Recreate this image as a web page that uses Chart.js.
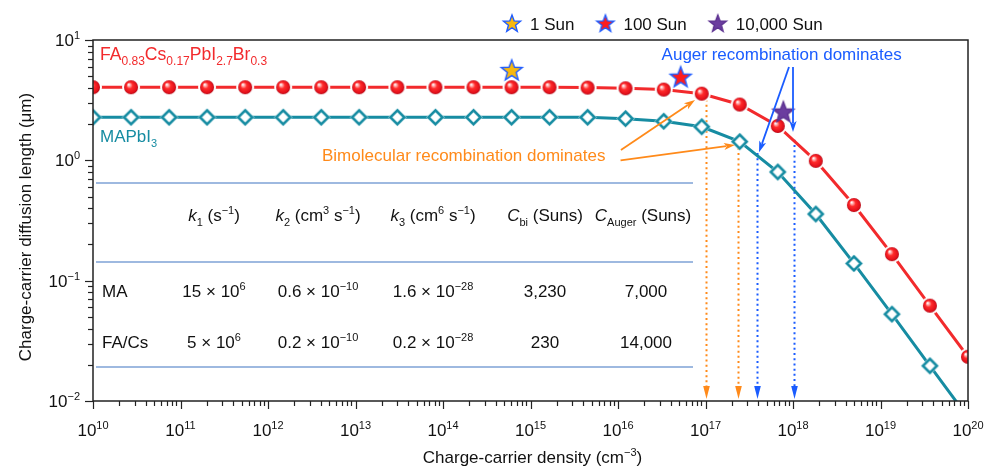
<!DOCTYPE html>
<html>
<head>
<meta charset="utf-8">
<script src="https://cdn.jsdelivr.net/npm/chart.js@4.4.1/dist/chart.umd.min.js"></script>
<style>
  html, body { margin: 0; padding: 0; background: #fff; }
  #wrap { width: 984px; height: 467px; }
</style>
</head>
<body>
<div id="wrap"><canvas id="myChart" width="984" height="467"></canvas></div>
<script>
// charge-carrier density of each simulated point (cm^-3)
const density = [1.0e10, 2.72e10, 7.41e10, 2.01e11, 5.48e11, 1.49e12, 4.06e12, 1.10e13,
    3.01e13, 8.19e13, 2.23e14, 6.07e14, 1.65e15, 4.49e15, 1.22e16, 3.33e16,
    9.06e16, 2.46e17, 6.70e17, 1.82e18, 4.97e18, 1.35e19, 3.67e19, 1.0e20];
// diffusion length (um)
const faCsLength = [4.05, 4.05, 4.05, 4.05, 4.05, 4.05, 4.05, 4.05, 4.05, 4.05, 4.05, 4.05,
    4.05, 4.02, 3.97, 3.87, 3.58, 2.91, 1.93, 0.99, 0.425, 0.166, 0.062, 0.0233];
const mapiLength = [2.28, 2.28, 2.28, 2.28, 2.28, 2.28, 2.28, 2.28, 2.28, 2.28, 2.28, 2.28,
    2.28, 2.28, 2.22, 2.11, 1.90, 1.43, 0.80, 0.358, 0.139, 0.0527, 0.0196, 0.0073];

// illumination markers
const sunNames = ['1 Sun', '100 Sun', '10,000 Sun'];
const sunDensity = [6.1e14, 5.2e16, 7.75e17];
const sunLength = [5.64, 4.96, 2.54];
const sunFill = ['#f7b80f', '#ff1c1c', '#6b3d9f'];
const sunEdge = ['#1f5cff', '#1f5cff', '#5c3190'];

// tick labels (powers of ten)
const xTickExp = [10, 11, 12, 13, 14, 15, 16, 17, 18, 19, 20];
const yTickExp = [-2, -1, 0, 1];

// dotted drop lines (density, top of line)
const biDensity = [1.0e17, 2.33e17];
const biTop = [3.2, 1.27];
const augerDensity = [3.9e17, 1.03e18];
const augerTop = [1.15, 1.48];

// annotation arrows [x1, y1, x2, y2] in data units
const biArrows = [[1.08e16, 1.22, 7.6e16, 3.17], [1.07e16, 1.0, 2.17e17, 1.34]];
const augerArrows = [[9.0e17, 5.97, 4.09e17, 1.17], [1.0e18, 5.97, 1.0e18, 1.72]];

// inset table
const tableHead = [
    [['k', 'i'], ['1', 'sub'], [' (s', ''], ['\u22121', 'sup'], [')', '']],
    [['k', 'i'], ['2', 'sub'], [' (cm', ''], ['3', 'sup'], [' s', ''], ['\u22121', 'sup'], [')', '']],
    [['k', 'i'], ['3', 'sub'], [' (cm', ''], ['6', 'sup'], [' s', ''], ['\u22121', 'sup'], [')', '']],
    [['C', 'i'], ['bi', 'sub'], [' (Suns)', '']],
    [['C', 'i'], ['Auger', 'sub'], [' (Suns)', '']]
];
const tableRowNames = ['MA', 'FA/Cs'];
const tableRows = [
    [[['15 \u00d7 10', ''], ['6', 'sup']], [['0.6 \u00d7 10', ''], ['\u221210', 'sup']],
     [['1.6 \u00d7 10', ''], ['\u221228', 'sup']], [['3,230', '']], [['7,000', '']]],
    [[['5 \u00d7 10', ''], ['6', 'sup']], [['0.2 \u00d7 10', ''], ['\u221210', 'sup']],
     [['0.2 \u00d7 10', ''], ['\u221228', 'sup']], [['230', '']], [['14,000', '']]]
];

const FONT = '"Liberation Sans", Arial, Helvetica, sans-serif';
const RED = '#f22a2c';
const TEAL = '#168ca2';
const ORANGE = '#ff8a1a';
const BLUE = '#1a5cff';

function partFont(kind, size) {
    const s = (kind === 'sup' || kind === 'sub') ? Math.round(size * 0.66) : size;
    return (kind === 'i' ? 'italic ' : '') + s + 'px ' + FONT;
}

function drawRich(ctx, parts, x, y, size, align) {
    let w = 0;
    parts.forEach(p => { ctx.font = partFont(p[1], size); w += ctx.measureText(p[0]).width; });
    let cx = align === 'center' ? x - w / 2 : (align === 'right' ? x - w : x);
    ctx.textAlign = 'left';
    ctx.textBaseline = 'alphabetic';
    parts.forEach(p => {
        ctx.font = partFont(p[1], size);
        const dy = p[1] === 'sup' ? -size * 0.42 : (p[1] === 'sub' ? size * 0.3 : 0);
        ctx.fillText(p[0], cx, y + dy);
        cx += ctx.measureText(p[0]).width;
    });
}

function makeSphere(r, ring) {
    const s = Math.ceil((r + ring) * 2 + 2);
    const c = document.createElement('canvas');
    c.width = c.height = s;
    const g = c.getContext('2d');
    const m = s / 2;
    g.fillStyle = '#fff';
    g.beginPath(); g.arc(m, m, r + ring, 0, Math.PI * 2); g.fill();
    const grad = g.createRadialGradient(m - r * 0.35, m - r * 0.4, r * 0.05, m, m, r);
    grad.addColorStop(0, '#ffffff');
    grad.addColorStop(0.2, '#ff9c9c');
    grad.addColorStop(0.42, '#ff2b2b');
    grad.addColorStop(0.85, '#e3101b');
    grad.addColorStop(1, '#b0000e');
    g.fillStyle = grad;
    g.beginPath(); g.arc(m, m, r, 0, Math.PI * 2); g.fill();
    return c;
}

function diamondPath(g, m, r) {
    g.beginPath();
    g.moveTo(m, m - r); g.lineTo(m + r, m); g.lineTo(m, m + r); g.lineTo(m - r, m);
    g.closePath();
}

function makeDiamond(r, ring, color) {
    const s = Math.ceil((r + ring) * 2 + 2);
    const c = document.createElement('canvas');
    c.width = c.height = s;
    const g = c.getContext('2d');
    const m = s / 2;
    g.fillStyle = '#fff';
    diamondPath(g, m, r + ring); g.fill();
    diamondPath(g, m, r);
    g.lineWidth = 2.6;
    g.strokeStyle = color;
    g.stroke();
    return c;
}

function makeStar(R, fill, edge) {
    const s = Math.ceil(R * 2 + 4);
    const c = document.createElement('canvas');
    c.width = c.height = s;
    const g = c.getContext('2d');
    const m = s / 2;
    g.beginPath();
    for (let i = 0; i < 10; i++) {
        const rr = i % 2 === 0 ? R : R * 0.42;
        const a = -Math.PI / 2 + i * Math.PI / 5;
        const px = m + rr * Math.cos(a), py = m + 1 + rr * Math.sin(a);
        if (i === 0) g.moveTo(px, py); else g.lineTo(px, py);
    }
    g.closePath();
    g.fillStyle = fill;
    g.fill();
    g.lineWidth = 1.4;
    g.strokeStyle = edge;
    g.stroke();
    return c;
}

function arrow(ctx, x1, y1, x2, y2, color, lw) {
    const a = Math.atan2(y2 - y1, x2 - x1);
    const len = 11, hw = 3.6;
    ctx.strokeStyle = color;
    ctx.fillStyle = color;
    ctx.lineWidth = lw;
    ctx.beginPath();
    ctx.moveTo(x1, y1);
    ctx.lineTo(x2 - Math.cos(a) * len * 0.8, y2 - Math.sin(a) * len * 0.8);
    ctx.stroke();
    ctx.beginPath();
    ctx.moveTo(x2, y2);
    ctx.lineTo(x2 - Math.cos(a) * len - Math.sin(a) * hw, y2 - Math.sin(a) * len + Math.cos(a) * hw);
    ctx.lineTo(x2 - Math.cos(a) * len * 0.75, y2 - Math.sin(a) * len * 0.75);
    ctx.lineTo(x2 - Math.cos(a) * len + Math.sin(a) * hw, y2 - Math.sin(a) * len - Math.cos(a) * hw);
    ctx.closePath();
    ctx.fill();
}

const sphereImg = makeSphere(7, 2);
const diamondImg = makeDiamond(7, 2.2, TEAL);
const starImgs = sunFill.map((f, i) => makeStar(11, f, sunEdge[i]));
const legendStars = sunFill.map((f, i) => makeStar(9, f, sunEdge[i]));

const decor = {
    id: 'decor',
    beforeDatasetsDraw(chart) {
        const ctx = chart.ctx;
        const area = chart.chartArea;
        const xs = chart.scales.x, ys = chart.scales.y;
        ctx.save();
        // table rules
        ctx.strokeStyle = '#7ea2d6';
        ctx.lineWidth = 1.4;
        [143, 222, 327].forEach(dy => {
            ctx.beginPath();
            ctx.moveTo(area.left + 3, area.top + dy);
            ctx.lineTo(693, area.top + dy);
            ctx.stroke();
        });
        ctx.fillStyle = '#111';
        const colX = [214, 318, 433, 545, 643];
        tableHead.forEach((parts, i) => drawRich(ctx, parts, colX[i], 221, 17, 'center'));
        tableRows.forEach((row, r) => {
            const by = r === 0 ? 297 : 348;
            drawRich(ctx, [[tableRowNames[r], '']], 102, by, 17, 'left');
            row.forEach((parts, i) => drawRich(ctx, parts, colX[i] + (i === 4 ? 3 : 0), by, 17, 'center'));
        });
        // dotted drop lines with arrow heads
        const drops = [
            ...biDensity.map((d, i) => [d, biTop[i], ORANGE]),
            ...augerDensity.map((d, i) => [d, augerTop[i], BLUE])
        ];
        drops.forEach(([d, top, col]) => {
            const px = Math.round(xs.getPixelForValue(d)) + 0.5;
            const tip = area.bottom - 2;
            ctx.strokeStyle = col;
            ctx.lineWidth = 2;
            ctx.setLineDash([2, 3.2]);
            ctx.beginPath();
            ctx.moveTo(px, ys.getPixelForValue(top));
            ctx.lineTo(px, tip - 10);
            ctx.stroke();
            ctx.setLineDash([]);
            ctx.fillStyle = col;
            ctx.beginPath();
            ctx.moveTo(px, tip);
            ctx.lineTo(px - 3.3, tip - 13);
            ctx.lineTo(px + 3.3, tip - 13);
            ctx.closePath();
            ctx.fill();
        });
        ctx.restore();
    },
    afterDatasetsDraw(chart) {
        const ctx = chart.ctx;
        const xs = chart.scales.x, ys = chart.scales.y;
        ctx.save();
        biArrows.forEach(a => arrow(ctx, xs.getPixelForValue(a[0]), ys.getPixelForValue(a[1]),
            xs.getPixelForValue(a[2]), ys.getPixelForValue(a[3]), ORANGE, 1.8));
        augerArrows.forEach(a => arrow(ctx, xs.getPixelForValue(a[0]), ys.getPixelForValue(a[1]),
            xs.getPixelForValue(a[2]), ys.getPixelForValue(a[3]), BLUE, 1.8));
        ctx.fillStyle = BLUE;
        drawRich(ctx, [['Auger recombination dominates', '']], xs.getPixelForValue(3.15e16), ys.getPixelForValue(6.82), 17, 'left');
        ctx.fillStyle = ORANGE;
        drawRich(ctx, [['Bimolecular recombination dominates', '']], xs.getPixelForValue(4.14e12), ys.getPixelForValue(0.987), 17, 'left');
        // series labels
        ctx.fillStyle = RED;
        drawRich(ctx, [['FA', ''], ['0.83', 'sub'], ['Cs', ''], ['0.17', 'sub'], ['PbI', ''], ['2.7', 'sub'], ['Br', ''], ['0.3', 'sub']],
            chart.chartArea.left + 7, 60, 17.6, 'left');
        ctx.fillStyle = TEAL;
        drawRich(ctx, [['MAPbI', ''], ['3', 'sub']], chart.chartArea.left + 7, 142, 17, 'left');
        ctx.restore();
    },
    afterDraw(chart) {
        const ctx = chart.ctx;
        const area = chart.chartArea;
        const xs = chart.scales.x, ys = chart.scales.y;
        ctx.save();
        ctx.strokeStyle = '#222';
        ctx.lineWidth = 1.5;
        ctx.strokeRect(area.left, area.top, area.right - area.left, area.bottom - area.top);
        ctx.lineWidth = 1.2;
        // x ticks
        xTickExp.forEach((e, k) => {
            const steps = k < xTickExp.length - 1 ? [1, 2, 3, 4, 5, 6, 7, 8, 9] : [1];
            steps.forEach(m => {
                const px = Math.round(xs.getPixelForValue(m * Math.pow(10, e))) + 0.5;
                ctx.beginPath();
                ctx.moveTo(px, area.bottom);
                ctx.lineTo(px, area.bottom + (m === 1 ? 8 : 5));
                ctx.stroke();
            });
        });
        // y ticks
        yTickExp.forEach((e, k) => {
            const steps = k < yTickExp.length - 1 ? [1, 2, 3, 4, 5, 6, 7, 8, 9] : [1];
            steps.forEach(m => {
                const py = Math.round(ys.getPixelForValue(m * Math.pow(10, e))) + 0.5;
                ctx.beginPath();
                ctx.moveTo(area.left, py);
                ctx.lineTo(area.left - (m === 1 ? 8 : 5), py);
                ctx.stroke();
            });
        });
        ctx.fillStyle = '#111';
        xTickExp.forEach(e => {
            drawRich(ctx, [['10', ''], [String(e), 'sup']], xs.getPixelForValue(Math.pow(10, e)), 436, 17, 'center');
        });
        yTickExp.forEach(e => {
            const lab = e < 0 ? '\u2212' + (-e) : String(e);
            drawRich(ctx, [['10', ''], [lab, 'sup']], 80, ys.getPixelForValue(Math.pow(10, e)) + 6, 17, 'right');
        });
        // axis titles
        drawRich(ctx, [['Charge-carrier density (cm', ''], ['\u22123', 'sup'], [')', '']], (area.left + area.right) / 2 + 2, 463, 17, 'center');
        ctx.save();
        ctx.translate(31, 227);
        ctx.rotate(-Math.PI / 2);
        drawRich(ctx, [['Charge-carrier diffusion length (\u03bcm)', '']], 0, 0, 17, 'center');
        ctx.restore();
        // legend
        let lx = 503;
        sunNames.forEach((name, i) => {
            const img = legendStars[i];
            ctx.drawImage(img, lx + 9 - img.width / 2, 23 - img.height / 2);
            ctx.fillStyle = '#111';
            ctx.font = '17px ' + FONT;
            ctx.textAlign = 'left';
            ctx.textBaseline = 'alphabetic';
            ctx.fillText(name, lx + 27, 30);
            lx += 27 + ctx.measureText(name).width + 22;
        });
        ctx.restore();
    }
};

const ctx = document.getElementById('myChart').getContext('2d');
const myChart = new Chart(ctx, {
    type: 'line',
    data: {
        datasets: [
            ...sunNames.map((name, i) => ({
                label: name,
                data: [{ x: sunDensity[i], y: sunLength[i] }],
                showLine: false,
                pointStyle: starImgs[i],
                pointRadius: 10,
                order: 0
            })),
            {
                label: 'FA0.83Cs0.17PbI2.7Br0.3',
                data: density.map((d, i) => ({ x: d, y: faCsLength[i] })),
                borderColor: RED,
                borderWidth: 3,
                pointStyle: sphereImg,
                pointRadius: 7,
                tension: 0,
                clip: 0,
                order: 2
            },
            {
                label: 'MAPbI3',
                data: density.map((d, i) => ({ x: d, y: mapiLength[i] })),
                borderColor: TEAL,
                borderWidth: 3,
                pointStyle: diamondImg,
                pointRadius: 7,
                tension: 0,
                clip: 0,
                order: 1
            }
        ]
    },
    options: {
        responsive: false,
        animation: false,
        events: [],
        layout: { padding: { left: 93, right: 16, top: 40, bottom: 66 } },
        scales: {
            x: { type: 'logarithmic', min: 1e10, max: 1e20, display: false },
            y: { type: 'logarithmic', min: 0.01, max: 10, display: false }
        },
        plugins: {
            legend: { display: false },
            tooltip: { enabled: false }
        }
    },
    plugins: [decor]
});
</script>
</body>
</html>
